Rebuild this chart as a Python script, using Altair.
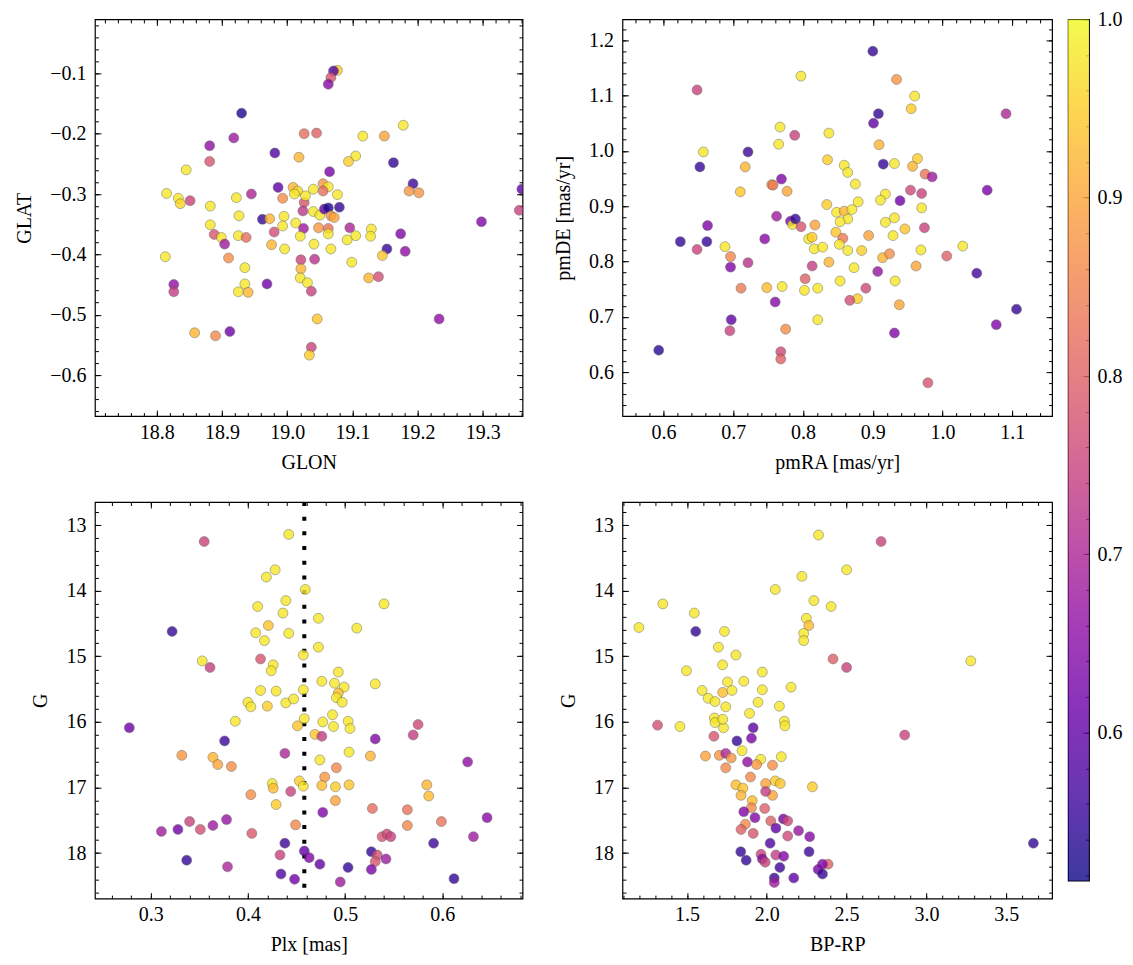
import altair as alt
import pandas as pd

FONT = "'Liberation Serif', 'DejaVu Serif', serif"
FS = 20

# ---------------- data ----------------
# Panel 1: GLON / GLAT / membership probability
glon = [18.930, 18.918, 18.881, 18.881, 18.845, 18.981, 19.026, 19.018, 18.815, 18.833,
        18.836, 18.851, 18.882, 18.922, 18.945, 18.986, 19.009, 19.016, 18.993, 19.011,
        19.026, 19.024, 18.926, 18.962, 18.973, 18.995, 18.993, 19.013, 18.882, 18.888,
        18.899, 18.904, 18.925, 18.937, 18.980, 19.025, 19.020, 18.976, 18.996, 18.813,
        18.910, 18.935, 19.021, 19.021, 19.020, 19.031, 18.935, 18.925, 18.940, 18.969,
        18.826, 18.826, 18.858, 18.890, 18.912, 19.037, 19.034,
        19.077, 19.071, 19.067, 19.063, 19.045, 19.116, 19.149, 19.178, 19.105, 19.094,
        19.163, 19.065, 19.055, 19.063, 19.055, 19.077, 19.040, 19.193, 19.187, 19.202,
        19.028, 19.040, 19.050, 19.057, 19.063, 19.080, 19.067, 19.072, 19.048, 19.063,
        19.063, 19.096, 19.105, 19.129, 19.128, 19.092, 19.174, 19.181, 19.041, 19.067,
        19.042, 19.099, 19.153, 19.146, 19.125, 19.140, 19.037, 19.046, 19.233, 19.298,
        19.356, 19.360]
glat = [-0.166, -0.207, -0.220, -0.246, -0.260, -0.232, -0.200, -0.239, -0.299, -0.307,
        -0.316, -0.311, -0.320, -0.306, -0.300, -0.289, -0.289, -0.295, -0.307, -0.300,
        -0.314, -0.328, -0.336, -0.342, -0.341, -0.337, -0.353, -0.348, -0.351, -0.367,
        -0.372, -0.383, -0.369, -0.372, -0.363, -0.357, -0.370, -0.384, -0.391, -0.404,
        -0.406, -0.422, -0.409, -0.424, -0.439, -0.447, -0.449, -0.462, -0.463, -0.449,
        -0.450, -0.462, -0.530, -0.535, -0.528, -0.554, -0.567,
        -0.095, -0.096, -0.107, -0.118, -0.199, -0.204, -0.204, -0.186, -0.237, -0.246,
        -0.248, -0.263, -0.283, -0.288, -0.295, -0.301, -0.292, -0.283, -0.295, -0.298,
        -0.303, -0.329, -0.335, -0.325, -0.323, -0.322, -0.336, -0.339, -0.356, -0.357,
        -0.366, -0.356, -0.369, -0.358, -0.370, -0.376, -0.366, -0.395, -0.383, -0.391,
        -0.408, -0.413, -0.391, -0.402, -0.439, -0.437, -0.461, -0.507, -0.507, -0.346,
        -0.327, -0.292]
prob1 = [0.53, 0.68, 0.66, 0.78, 0.98, 0.58, 0.82, 0.92, 0.98, 0.98,
         0.96, 0.75, 0.98, 0.98, 0.70, 0.60, 0.92, 0.96, 0.87, 0.98,
         0.78, 0.73, 0.98, 0.55, 0.92, 0.98, 0.98, 0.98, 0.98, 0.78,
         0.98, 0.68, 0.98, 0.82, 0.77, 0.68, 0.98, 0.92, 0.98, 0.98,
         0.87, 0.98, 0.75, 0.92, 0.98, 0.98, 0.98, 0.98, 0.92, 0.62,
         0.66, 0.74, 0.92, 0.86, 0.62, 0.75, 0.95,
         0.95, 0.58, 0.78, 0.65, 0.80, 0.98, 0.90, 0.98, 0.98, 0.95,
         0.55, 0.63, 0.88, 0.98, 0.82, 0.98, 0.98, 0.56, 0.88, 0.88,
         0.98, 0.98, 0.98, 0.60, 0.53, 0.55, 0.88, 0.90, 0.88, 0.83,
         0.98, 0.70, 0.98, 0.98, 0.98, 0.98, 0.64, 0.66, 0.98, 0.98,
         0.72, 0.98, 0.55, 0.94, 0.92, 0.77, 0.75, 0.94, 0.66, 0.64,
         0.75, 0.60]

# Panel 2: proper motions
pmra = [0.593, 0.648, 0.657, 0.652, 0.624, 0.663, 0.662, 0.648, 0.688, 0.696,
        0.696, 0.721, 0.711, 0.697, 0.695, 0.721, 0.717, 0.710, 0.755, 0.757,
        0.769, 0.777, 0.767, 0.765, 0.788, 0.797, 0.762, 0.745, 0.782, 0.785,
        0.789, 0.797, 0.817, 0.808, 0.813, 0.816, 0.813, 0.803, 0.802, 0.748,
        0.770, 0.760, 0.775, 0.768, 0.768, 0.821,
        0.900, 0.934, 0.960, 0.955, 0.908, 0.901, 1.091, 0.837, 0.909, 0.835,
        0.859, 0.864, 0.915, 0.931, 0.964, 0.957, 0.975, 0.985, 0.875, 0.954,
        0.970, 1.064, 0.918, 0.911, 0.939, 0.879, 0.834, 0.848, 0.859, 0.870,
        0.864, 0.853, 0.970, 0.931, 0.918, 0.946, 0.974, 0.847, 0.857, 0.929,
        0.894, 0.852, 0.864, 0.828, 0.884, 0.969, 1.029, 1.006, 0.914, 0.924,
        0.837, 0.873, 0.962, 0.907, 1.049, 0.932, 0.853, 0.821, 0.890, 0.878,
        0.867, 0.938, 1.106, 1.077, 0.931, 0.979]
pmde = [0.640, 1.110, 0.998, 0.971, 0.836, 0.865, 0.836, 0.822, 0.827, 0.809,
        0.790, 0.798, 0.752, 0.695, 0.675, 0.998, 0.971, 0.926, 0.939, 0.938,
        0.949, 0.927, 1.043, 1.012, 1.028, 1.135, 0.882, 0.841, 0.873, 0.867,
        0.877, 0.863, 0.866, 0.841, 0.844, 0.823, 0.792, 0.769, 0.748, 0.753,
        0.755, 0.727, 0.678, 0.637, 0.624, 0.695,
        1.180, 1.129, 1.099, 1.076, 1.067, 1.050, 1.067, 1.032, 1.011, 0.984,
        0.974, 0.961, 0.976, 0.977, 0.986, 0.972, 0.958, 0.953, 0.940, 0.929,
        0.923, 0.929, 0.922, 0.911, 0.910, 0.908, 0.903, 0.889, 0.891, 0.894,
        0.877, 0.872, 0.897, 0.879, 0.871, 0.859, 0.861, 0.853, 0.842, 0.847,
        0.847, 0.831, 0.820, 0.826, 0.820, 0.821, 0.828, 0.810, 0.807, 0.814,
        0.799, 0.789, 0.792, 0.782, 0.779, 0.765, 0.765, 0.752, 0.752, 0.733,
        0.730, 0.722, 0.714, 0.686, 0.671, 0.581]
prob2 = [0.54, 0.75, 0.98, 0.55, 0.55, 0.64, 0.55, 0.75, 0.98, 0.86,
         0.64, 0.72, 0.84, 0.60, 0.75, 0.56, 0.92, 0.94, 0.88, 0.84,
         0.64, 0.90, 0.98, 0.98, 0.75, 0.98, 0.68, 0.65, 0.63, 0.98,
         0.55, 0.78, 0.90, 0.98, 0.95, 0.98, 0.74, 0.80, 0.98, 0.93,
         0.98, 0.65, 0.87, 0.76, 0.80, 0.98,
         0.55, 0.88, 0.98, 0.95, 0.55, 0.60, 0.70, 0.98, 0.92, 0.95,
         0.98, 0.98, 0.55, 0.98, 0.95, 0.92, 0.83, 0.68, 0.98, 0.76,
         0.75, 0.63, 0.98, 0.98, 0.62, 0.98, 0.95, 0.98, 0.92, 0.98,
         0.98, 0.98, 0.98, 0.98, 0.98, 0.94, 0.75, 0.94, 0.84, 0.98,
         0.90, 0.98, 0.98, 0.98, 0.95, 0.98, 0.98, 0.80, 0.92, 0.87,
         0.92, 0.98, 0.90, 0.67, 0.57, 0.98, 0.98, 0.98, 0.76, 0.95,
         0.77, 0.90, 0.55, 0.64, 0.64, 0.78]

# Panel 3: parallax vs G
plx = [0.442, 0.355, 0.428, 0.419, 0.459, 0.439, 0.410, 0.436, 0.421, 0.408,
       0.442, 0.417, 0.322, 0.457, 0.413, 0.426, 0.424, 0.353, 0.361, 0.413,
       0.429, 0.457, 0.400, 0.403, 0.420, 0.439, 0.447, 0.458, 0.451, 0.387,
       0.278, 0.376, 0.438, 0.332, 0.364, 0.369, 0.383, 0.425, 0.426, 0.453,
       0.457, 0.444, 0.429, 0.403, 0.449, 0.311, 0.328, 0.340, 0.351, 0.364,
       0.378, 0.404, 0.438, 0.433, 0.337, 0.379, 0.434, 0.448, 0.458, 0.463,
       0.540, 0.4725, 0.512, 0.4725, 0.493, 0.476, 0.489, 0.499, 0.493, 0.491,
       0.497, 0.531, 0.487, 0.477, 0.488, 0.503, 0.505, 0.469, 0.476, 0.531,
       0.575, 0.570, 0.504, 0.474, 0.526, 0.491, 0.479, 0.476, 0.490, 0.504,
       0.490, 0.626, 0.584, 0.586, 0.477, 0.528, 0.564, 0.564, 0.599, 0.646,
       0.538, 0.543, 0.547, 0.632, 0.591, 0.474, 0.503, 0.527, 0.533, 0.531,
       0.542, 0.527, 0.495, 0.612]
g3 = [13.14, 13.25, 13.68, 13.79, 13.98, 14.15, 14.24, 14.34, 14.53, 14.64,
      14.65, 14.76, 14.62, 14.98, 15.04, 15.13, 15.22, 15.07, 15.17, 15.52,
      15.53, 15.51, 15.70, 15.77, 15.76, 15.71, 15.65, 15.95, 16.06, 15.99,
      16.09, 16.29, 16.48, 16.51, 16.54, 16.65, 16.68, 16.94, 17.01, 16.90,
      16.98, 17.06, 17.26, 17.11, 17.57, 17.67, 17.64, 17.52, 17.64, 17.58,
      17.49, 17.70, 17.85, 18.03, 18.11, 18.21, 18.32, 18.40, 17.97, 18.07,
      14.20, 14.42, 14.57, 14.86, 15.24, 15.38, 15.41, 15.47, 15.56, 15.63,
      15.70, 15.42, 15.89, 16.00, 16.07, 15.99, 16.10, 16.19, 16.22, 16.26,
      16.04, 16.20, 16.46, 16.58, 16.52, 16.70, 16.84, 16.97, 16.99, 16.96,
      17.20, 16.61, 16.96, 17.13, 17.38, 17.32, 17.34, 17.58, 17.52, 17.46,
      17.75, 17.71, 17.75, 17.75, 17.85, 18.17, 18.22, 17.98, 18.03, 18.13,
      18.09, 18.25, 18.44, 18.39]
prob3 = [0.98, 0.75, 0.98, 0.98, 0.98, 0.98, 0.98, 0.98, 0.94, 0.98,
         0.98, 0.98, 0.55, 0.98, 0.78, 0.98, 0.98, 0.98, 0.74, 0.98,
         0.98, 0.98, 0.98, 0.98, 0.95, 0.98, 0.98, 0.98, 0.94, 0.98,
         0.62, 0.56, 0.70, 0.88, 0.92, 0.90, 0.87, 0.98, 0.93, 0.95,
         0.98, 0.75, 0.95, 0.87, 0.86, 0.68, 0.62, 0.75, 0.77, 0.68,
         0.67, 0.79, 0.56, 0.75, 0.55, 0.70, 0.58, 0.62, 0.60, 0.64,
         0.98, 0.98, 0.98, 0.98, 0.98, 0.98, 0.98, 0.98, 0.93, 0.98,
         0.98, 0.98, 0.98, 0.98, 0.98, 0.98, 0.98, 0.94, 0.74, 0.64,
         0.76, 0.74, 0.98, 0.98, 0.92, 0.86, 0.88, 0.93, 0.95, 0.94,
         0.90, 0.66, 0.92, 0.93, 0.64, 0.82, 0.83, 0.86, 0.83, 0.65,
         0.78, 0.76, 0.75, 0.68, 0.56, 0.60, 0.55, 0.55, 0.77, 0.78,
         0.68, 0.63, 0.68, 0.55]
plx_line = [0.458]

# Panel 4: colour-magnitude diagram
bprp = [1.199, 1.349, 1.546, 1.555, 1.497, 1.735, 1.697, 1.807, 1.723, 1.595,
        1.633, 1.676, 1.724, 1.754, 1.782, 1.856, 1.743, 1.972, 1.972, 1.945,
        1.892, 2.079, 2.152, 1.672, 1.676, 1.729, 1.724, 2.110, 2.114, 1.456,
        1.316, 1.669, 1.915, 1.904, 1.813, 1.845, 1.616, 1.703, 1.743, 1.777,
        1.743, 1.879, 1.962, 1.936, 2.091, 2.036, 1.898, 1.807, 1.850, 1.839,
        1.993, 2.053, 2.085, 2.036, 1.993, 2.286, 1.909, 1.904, 1.987, 1.856,
        1.866, 1.926, 1.839, 1.915, 2.025, 2.057, 2.104, 2.131, 2.131, 2.199,
        2.269, 2.021, 1.837, 1.871, 1.964, 1.972, 1.990, 2.057, 2.106, 2.082,
        2.047, 2.047, 2.169, 2.265, 2.322, 2.349, 2.053, 2.220, 2.295, 2.248,
        2.263, 2.231, 2.231, 2.324,
        2.716, 2.500, 2.403, 2.415, 2.500, 3.278, 2.864, 3.670, 2.384, 2.349]
g4 = [14.56, 14.20, 14.34, 14.62, 15.22, 14.62, 14.86, 14.98, 15.13, 15.52,
      15.64, 15.69, 15.55, 15.39, 15.52, 15.38, 15.77, 15.24, 15.51, 15.70,
      15.87, 15.76, 15.47, 15.94, 16.01, 16.09, 15.96, 15.99, 16.06, 16.07,
      16.05, 16.22, 16.09, 16.25, 16.29, 16.44, 16.52, 16.51, 16.48, 16.55,
      16.70, 16.61, 16.57, 16.65, 16.53, 16.66, 16.84, 16.96, 17.01, 17.12,
      16.94, 16.90, 16.94, 17.12, 17.06, 16.99, 17.20, 17.31, 17.32, 17.37,
      17.56, 17.46, 17.64, 17.70, 17.51, 17.62, 17.48, 17.51, 17.74, 17.66,
      17.75, 17.85, 17.98, 18.11, 18.02, 18.09, 18.14, 18.03, 18.05, 18.22,
      18.38, 18.45, 18.38, 17.98, 18.25, 18.32, 13.98, 13.78, 14.15, 14.42,
      14.53, 14.65, 14.76, 13.15,
      13.25, 13.68, 14.24, 15.04, 15.17, 15.07, 16.20, 17.85, 18.17, 18.17]
prob4 = [0.98, 0.98, 0.98, 0.55, 0.98, 0.98, 0.98, 0.98, 0.98, 0.98,
         0.98, 0.98, 0.93, 0.98, 0.98, 0.98, 0.98, 0.98, 0.98, 0.98,
         0.98, 0.98, 0.98, 0.98, 0.98, 0.98, 0.98, 0.98, 0.98, 0.98,
         0.77, 0.78, 0.60, 0.63, 0.55, 0.98, 0.90, 0.88, 0.70, 0.88,
         0.86, 0.66, 0.98, 0.88, 0.98, 0.87, 0.86, 0.93, 0.94, 0.92,
         0.90, 0.95, 0.94, 0.90, 0.74, 0.95, 0.93, 0.86, 0.80, 0.64,
         0.86, 0.64, 0.80, 0.78, 0.80, 0.60, 0.63, 0.76, 0.76, 0.67,
         0.65, 0.58, 0.55, 0.55, 0.75, 0.65, 0.75, 0.74, 0.64, 0.56,
         0.55, 0.68, 0.60, 0.56, 0.63, 0.55, 0.98, 0.98, 0.98, 0.98,
         0.93, 0.98, 0.98, 0.98,
         0.75, 0.98, 0.98, 0.80, 0.75, 0.98, 0.75, 0.55, 0.80, 0.64]

# colour range of the colour bar
prob_range = [0.517, 1.0]
cbar_major = [0.6, 0.7, 0.8, 0.9, 1.0]

# matplotlib "plasma" colour stops for the colour bar
PLASMA = ["#0d0887", "#41049d", "#6a00a8", "#8f0da4", "#b12a90", "#cc4778",
          "#e16462", "#f2844b", "#fca636", "#fcce25", "#f0f921"]


def ticks(lo, hi, step):
    n = int(round((hi - lo) / step))
    return [round(lo + i * step, 4) for i in range(n + 1)]


cscale = alt.Scale(scheme="plasma", domain=prob_range)

MAJ = 6
MIN = 3.5


def axis(orient, values, size, labels=False, fmt=None, title=None, lpad=6, tpad=10,
         hidden=False):
    kw = dict(orient=orient, values=values, tickSize=size, offset=-size,
              domain=False, grid=False, ticks=True, tickColor="black",
              tickWidth=1, labels=labels, title=title)
    if labels:
        kw.update(format=fmt, labelFont=FONT, labelFontSize=FS, labelColor="black",
                  labelPadding=lpad, labelFlush=False, labelOverlap=False,
                  titleFont=FONT, titleFontSize=FS, titleFontWeight="normal",
                  titleColor="black", titlePadding=tpad)
    if hidden:
        # invisible labels that only reserve space above the top row
        kw.update(labels=True, format=".1f", labelFontSize=FS / 2, labelPadding=0,
                  labelOpacity=0, labelFlush=False, labelOverlap=False)
    return alt.Axis(**kw)


def ghost(data):
    # invisible, clipped layer that only carries extra tick axes
    return alt.Chart(data).mark_point(opacity=0, size=1, clip=True)


def panel(df, xf, yf, xdom, ydom, xmaj, xmin, ymaj, ymin, xt, yt, xfmt, yfmt,
          w, h, yrev=False, vline=None, top_row=False):
    xs = alt.Scale(domain=xdom, nice=False, zero=False)
    ys = alt.Scale(domain=ydom, nice=False, zero=False, reverse=yrev)

    def enc(xa, ya):
        return dict(x=alt.X(f"{xf}:Q", scale=xs, axis=xa),
                    y=alt.Y(f"{yf}:Q", scale=ys, axis=ya))

    l1 = ghost(df).encode(**enc(axis("top", xmaj, MAJ, hidden=top_row), axis("right", ymaj, MAJ)))
    l2 = ghost(df).encode(**enc(axis("bottom", xmin, MIN), axis("left", ymin, MIN)))
    l3 = ghost(df).encode(**enc(axis("top", xmin, MIN), axis("right", ymin, MIN)))
    pts = alt.Chart(df).mark_circle(size=100, opacity=0.8, stroke="#4a4a4a", strokeWidth=0.5,
                                    clip=True).encode(
        **enc(axis("bottom", xmaj, MAJ, True, xfmt, xt, lpad=6, tpad=10),
              axis("left", ymaj, MAJ, True, yfmt, yt, lpad=9, tpad=15)),
        color=alt.Color("prob:Q", scale=cscale, legend=None))
    layers = [l1, l2, l3]
    if vline is not None:
        ldf = pd.DataFrame({xf: vline, "y_a": [ydom[0]], "y_b": [ydom[1]]})
        layers.append(alt.Chart(ldf).mark_rule(color="black", strokeWidth=4,
                                               strokeDash=[4, 10.7], clip=True)
                      .encode(x=alt.X(f"{xf}:Q", scale=xs, axis=None),
                              y=alt.Y("y_a:Q", scale=ys, axis=None),
                              y2="y_b:Q"))
    layers.append(pts)
    return alt.layer(*layers).resolve_axis(x="independent", y="independent").properties(
        width=w, height=h)


df1 = pd.DataFrame({"GLON": glon, "GLAT": glat, "prob": prob1})
df2 = pd.DataFrame({"pmRA": pmra, "pmDE": pmde, "prob": prob2})
df3 = pd.DataFrame({"Plx": plx, "G": g3, "prob": prob3})
df4 = pd.DataFrame({"BPRP": bprp, "G": g4, "prob": prob4})

W_L, W_R, H = 428, 430, 397

p1 = panel(df1, "GLON", "GLAT", [18.705, 19.361], [-0.668, -0.0106],
           ticks(18.8, 19.3, 0.1), ticks(18.72, 19.36, 0.02),
           ticks(-0.6, -0.1, 0.1), ticks(-0.66, -0.02, 0.02),
           "GLON", "GLAT", ".1f", ".1f", W_L, H, top_row=True)
p2 = panel(df2, "pmRA", "pmDE", [0.541, 1.157], [0.521, 1.2374],
           ticks(0.6, 1.1, 0.1), ticks(0.56, 1.14, 0.02),
           ticks(0.6, 1.2, 0.1), ticks(0.54, 1.22, 0.02),
           "pmRA [mas/yr]", "pmDE [mas/yr]", ".1f", ".1f", W_R, H, top_row=True)
p3 = panel(df3, "Plx", "G", [0.2426, 0.6825], [12.646, 18.695],
           ticks(0.3, 0.6, 0.1), ticks(0.26, 0.68, 0.02),
           ticks(13, 18, 1), ticks(12.8, 18.6, 0.2),
           "Plx [mas]", "G", ".1f", "d", W_L, H, yrev=True, vline=plx_line)
p4 = panel(df4, "BPRP", "G", [1.096, 3.787], [12.646, 18.695],
           ticks(1.5, 3.5, 0.5), ticks(1.1, 3.7, 0.1),
           ticks(13, 18, 1), ticks(12.8, 18.6, 0.2),
           "BP-RP", "G", ".1f", "d", W_R, H, yrev=True)

# colour bar
cbdf = pd.DataFrame({"lo": [prob_range[0]], "hi": [prob_range[1]], "c0": [0.0], "c1": [1.0]})
cbs = alt.Scale(domain=prob_range, nice=False, zero=False)
cbx = alt.Scale(domain=[0, 1], nice=False, zero=False)
grad = alt.Gradient(gradient="linear",
                    stops=[alt.GradientStop(offset=i / 10, color=c) for i, c in enumerate(PLASMA)],
                    x1=0, x2=0, y1=1, y2=0)
cb_rect = alt.Chart(cbdf).mark_rect(fill=grad, fillOpacity=0.8).encode(
    y=alt.Y("lo:Q", scale=cbs, axis=axis("right", cbar_major, MAJ, True, ".1f", None, lpad=8)),
    y2="hi:Q",
    x=alt.X("c0:Q", scale=cbx, axis=None), x2="c1:Q")
cb_minor = ghost(cbdf).encode(
    y=alt.Y("hi:Q", scale=cbs, axis=axis("right", ticks(0.52, 1.0, 0.02), MIN)),
    x=alt.X("c1:Q", scale=cbx, axis=None))
cbar = alt.layer(cb_minor, cb_rect).resolve_axis(y="independent").properties(width=21, height=862)

grid = alt.concat(p1, p2, p3, p4, columns=2,
                  spacing=alt.RowColnumber(row=27, column=28))
chart = alt.hconcat(grid, cbar, spacing=13).properties(
    padding={"left": 6, "top": 0, "right": 2, "bottom": 5}
).configure_view(stroke="black", strokeWidth=1.2).configure_axis(grid=False)

chart.save("out.html", embed_options={"renderer": "svg", "actions": False})
